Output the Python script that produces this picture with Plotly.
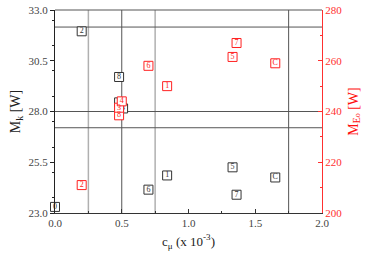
import plotly.graph_objects as go

# Black series (left axis, M_k)
k_labels = ['0', '2', '8', '3', '4', '1', '6', '5', '7', 'C']
k_x = [0.0, 0.2, 0.48, 0.48, 0.51, 0.84, 0.70, 1.33, 1.36, 1.65]
k_y = [23.3, 31.95, 29.7, 28.45, 28.15, 24.85, 24.15, 25.25, 23.9, 24.75]

# Red series (right axis, M_Eo)
e_labels = ['0', '2', '8', '3', '4', '6', '1', '5', '7', 'C']
e_x = [0.0, 0.2, 0.48, 0.48, 0.5, 0.70, 0.84, 1.33, 1.36, 1.65]
e_y = [197.5, 211.0, 238.5, 241.5, 244.0, 258.0, 250.0, 261.5, 267.0, 259.0]

# Reference lines
vlines_light = [0.25, 0.75]
vlines_dark = [0.5, 1.75]
hlines = [32.16, 28.0, 27.2]

x_ticks = [0.0, 0.5, 1.0, 1.5, 2.0]
k_ticks = [23.0, 25.5, 28.0, 30.5, 33.0]
e_ticks = [200, 220, 240, 260, 280]

FONT = "Liberation Serif"

fig = go.Figure()
fig.add_trace(go.Scatter(
    x=k_x, y=k_y, text=k_labels, mode='markers+text', textposition='middle center',
    marker=dict(symbol='square', size=9, color='white', line=dict(color='#333', width=1)),
    textfont=dict(family=FONT, size=8, color='#333'), cliponaxis=False, showlegend=False))
fig.add_trace(go.Scatter(
    x=e_x, y=e_y, text=e_labels, mode='markers+text', textposition='middle center', yaxis='y2',
    marker=dict(symbol='square', size=9, color='white', line=dict(color='#ff2020', width=1)),
    textfont=dict(family=FONT, size=8, color='#ff2020'), cliponaxis=False, showlegend=False))

shapes = []
for v in vlines_light:
    shapes.append(dict(type='line', xref='x', yref='paper', x0=v, x1=v, y0=0, y1=1,
                       line=dict(color='#b0b0b0', width=1.5), layer='below'))
for v in vlines_dark:
    shapes.append(dict(type='line', xref='x', yref='paper', x0=v, x1=v, y0=0, y1=1,
                       line=dict(color='#555', width=1), layer='below'))
for h in hlines:
    shapes.append(dict(type='line', xref='paper', yref='y', x0=0, x1=1, y0=h, y1=h,
                       line=dict(color='#555', width=1), layer='below'))
# top frame
shapes.append(dict(type='line', xref='paper', yref='paper', x0=0, x1=1, y0=1, y1=1,
                   line=dict(color='#555', width=1)))

fig.update_layout(
    width=374, height=260, margin=dict(l=55, r=52, t=10, b=47),
    paper_bgcolor='white', plot_bgcolor='white',
    font=dict(family=FONT, size=11, color='#444'),
    shapes=shapes,
    xaxis=dict(range=[0, 2.0], tickvals=x_ticks, ticktext=[f"{t:.1f}" for t in x_ticks],
               automargin=False,
               showgrid=False, zeroline=False, showline=True, linecolor='#333', linewidth=1,
               ticks='inside', ticklen=4, tickcolor='#333',
               minor=dict(ticks='inside', ticklen=2, dtick=0.25, tickcolor='#333'),
               title=dict(text="c<sub>μ</sub> (x 10<sup>-3</sup>)", font=dict(size=13, color='#222'), standoff=8)),
    yaxis=dict(range=[23.0, 33.0], tickvals=k_ticks, ticktext=[f"{t:.1f}" for t in k_ticks],
               automargin=False,
               showgrid=False, zeroline=False, showline=True, linecolor='#222', linewidth=1,
               ticks='outside', ticklen=4, tickcolor='#222',
               minor=dict(ticks='outside', ticklen=2, dtick=1.25, tickcolor='#222'),
               title=dict(text="M<sub>k</sub> [W]", font=dict(size=14, color='#222'), standoff=4)),
    yaxis2=dict(range=[200, 280], tickvals=e_ticks, overlaying='y', side='right',
                automargin=False,
                showgrid=False, zeroline=False, showline=True, linecolor='#ff3030', linewidth=1,
                ticks='inside', ticklen=4, tickcolor='#ff3030',
                minor=dict(ticks='inside', ticklen=2, dtick=10, tickcolor='#ff3030'),
                tickfont=dict(color='#ff3030'),
                title=dict(text="M<sub>E<span style='font-size:8px'>o</span></sub> [W]",
                           font=dict(size=14, color='#ff1010'), standoff=6)),
)

fig.write_html("out.html", config={"displayModeBar": False},
               post_script="document.body.style.margin='0';document.body.style.padding='0';")
